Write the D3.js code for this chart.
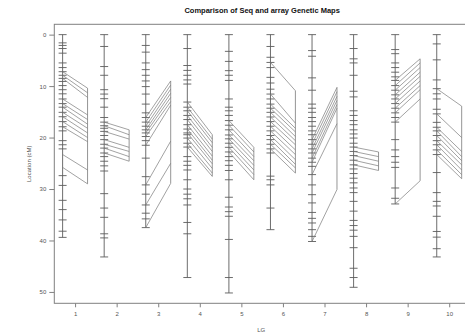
<!DOCTYPE html>
<html>
<head>
<meta charset="utf-8">
<script src="https://cdn.jsdelivr.net/npm/d3@7"></script>
<style>
  html, body { margin: 0; padding: 0; background: #fff; }
  svg { display: block; font-family: "Liberation Sans", Arial, sans-serif; }
</style>
</head>
<body>
<svg id="chart" width="465" height="334"></svg>
<script>
// Linkage groups
const linkageGroups = [1, 2, 3, 4, 5, 6, 7, 8, 9, 10];

// Marker positions (cM) on the sequence-based map, one list per linkage group
const seqPositions = [
  [0, 1.6, 2.1, 2.7, 3.6, 5.5, 6.4, 7.2, 7.9, 8.5, 9.1, 9.9, 10.7, 11.5, 12.5, 13.4, 14.1, 15.1, 15.95, 16.9, 17.9, 18.7, 20.6, 21.4, 22.2, 27.4, 29.3, 32.2, 34.0, 36.0, 38.2, 39.4],
  [0, 2.3, 6.2, 7.9, 10.7, 11.55, 12.45, 14.1, 16.1, 17.0, 17.7, 18.2, 18.8, 19.6, 20.4, 21.3, 22.05, 23.0, 23.7, 24.6, 25.5, 26.5, 30.9, 33.7, 35.5, 38.7, 39.5, 43.2],
  [0, 2.1, 3.4, 5.5, 6.8, 7.9, 9.0, 10.1, 11.55, 13.5, 15.2, 16.1, 17.0, 17.8, 18.5, 19.1, 19.8, 20.6, 21.5, 24.0, 27.6, 29.2, 31.0, 33.1, 34.7, 35.8, 37.5],
  [0, 2.7, 6.0, 6.95, 7.9, 8.8, 9.6, 13.1, 14.1, 14.8, 15.7, 16.5, 17.5, 18.35, 19.1, 19.45, 20.1, 21.1, 21.85, 23.7, 24.6, 25.4, 26.3, 28.2, 30.0, 31.0, 31.9, 33.1, 36.5, 38.7, 47.2],
  [0, 3.25, 5.2, 7.0, 7.9, 8.9, 12.5, 14.1, 14.8, 15.7, 16.7, 17.6, 18.5, 19.5, 20.25, 21.1, 21.9, 22.8, 23.7, 24.5, 25.4, 26.4, 28.2, 31.6, 33.5, 34.4, 35.3, 39.8, 47.2, 50.2],
  [0, 2.3, 4.4, 5.4, 6.4, 8.3, 9.4, 10.6, 11.55, 12.5, 13.5, 14.3, 15.1, 16.0, 16.9, 17.8, 18.7, 19.6, 20.4, 21.3, 22.2, 23.0, 27.5, 28.2, 29.2, 33.7, 37.9],
  [0, 3.1, 4.2, 8.4, 10.8, 13.5, 14.3, 15.1, 16.1, 16.9, 17.8, 18.7, 19.45, 20.4, 21.3, 22.2, 23.0, 24.0, 24.8, 25.6, 27.2, 29.2, 31.1, 32.7, 34.55, 35.7, 36.6, 37.9, 39.2, 40.2],
  [0, 2.7, 4.7, 5.5, 7.9, 11.0, 12.1, 14.8, 15.7, 16.7, 17.5, 18.5, 19.3, 20.1, 21.1, 21.85, 22.7, 23.5, 24.4, 25.3, 26.1, 27.0, 27.9, 28.8, 29.8, 30.7, 32.4, 34.3, 36.1, 37.1, 38.0, 39.2, 41.4, 45.4, 47.2, 49.1],
  [0, 2.9, 3.7, 5.5, 6.4, 7.3, 8.2, 8.9, 9.9, 10.8, 11.7, 12.5, 13.4, 14.3, 15.2, 16.1, 17.0, 20.4, 22.4, 23.7, 24.8, 25.8, 29.8, 31.8, 32.9],
  [0, 1.8, 4.9, 8.8, 10.5, 11.5, 12.5, 14.5, 15.4, 17.05, 18.0, 18.7, 19.6, 20.6, 21.4, 22.4, 23.3, 26.8, 30.7, 32.4, 33.3, 35.3, 38.25, 39.35, 41.6, 43.2]
];

// Shared markers: [position on sequence map, position on array map] (cM)
const sharedMarkers = [
  [[7.2, 10.4], [7.9, 11.3], [8.5, 12.2], [12.5, 15.6], [13.4, 16.5], [14.1, 17.4], [15.1, 18.2], [15.95, 19.1], [16.9, 20.0], [17.9, 20.8], [23.3, 26.3], [25.8, 29.0]],
  [[17.0, 18.5], [17.7, 19.45], [18.8, 20.3], [20.4, 21.9], [21.3, 22.7], [22.05, 23.7], [23.0, 24.6]],
  [[16.1, 9.0], [17.0, 9.8], [17.8, 10.6], [18.5, 11.4], [19.1, 12.2], [19.8, 13.0], [21.5, 13.7], [29.2, 20.7], [33.1, 25.0], [37.5, 28.9]],
  [[13.1, 19.45], [14.1, 20.3], [14.8, 21.0], [15.7, 21.9], [16.5, 22.7], [17.5, 23.6], [18.35, 24.4], [19.1, 25.1], [20.1, 26.0], [21.1, 26.9], [21.85, 27.55]],
  [[16.7, 21.9], [17.6, 22.8], [18.5, 23.7], [19.5, 24.5], [20.25, 25.4], [21.1, 26.3], [21.9, 27.2], [22.8, 28.2]],
  [[5.4, 10.9], [11.55, 17.2], [13.5, 18.2], [14.3, 18.9], [15.1, 19.8], [16.0, 20.6], [16.9, 21.4], [17.8, 22.4], [18.7, 23.3], [19.6, 24.3], [20.4, 25.2], [21.3, 25.9], [22.2, 26.9]],
  [[20.4, 10.25], [21.3, 11.1], [22.2, 12.0], [23.0, 12.8], [24.0, 13.6], [24.8, 14.3], [27.2, 17.3], [40.2, 30.1]],
  [[21.85, 22.8], [22.7, 23.7], [23.5, 24.6], [24.4, 25.5], [25.3, 26.4]],
  [[8.9, 4.7], [9.9, 5.5], [10.8, 6.4], [11.7, 7.3], [12.5, 8.1], [13.4, 9.0], [14.3, 9.9], [15.2, 10.7], [17.0, 12.5], [32.9, 28.4]],
  [[10.5, 13.9], [15.4, 20.0], [18.0, 22.7], [18.7, 23.7], [19.6, 24.5], [20.6, 25.3], [21.4, 26.3], [22.4, 27.2], [23.3, 28.0]]
];

const yTicks = [0, 10, 20, 30, 40, 50];
const titleText = "Comparison of Seq and array Genetic Maps";
const xTitle = "LG";
const yTitle = "Location (cM)";

const svg = d3.select("#chart");
const plot = { left: 54.3, right: 470, top: 24.3, bottom: 303.3 };

const maxPos = d3.max(seqPositions.flat());
const pad = maxPos * 0.04;

const x = d3.scaleLinear().domain([0.5, 10.5]).range([plot.left, plot.right]);
const y = d3.scaleLinear().domain([-pad, maxPos + pad]).range([plot.top, plot.bottom]);

const seqOffset = -0.3, arrOffset = 0.3;
const halfTick = 4;
const markColor = "#5c5c5c";
const linkColor = "#7a7a7a";
const axisColor = "#808080";

// Title
svg.append("text")
  .attr("x", (plot.left + plot.right) / 2)
  .attr("y", 12.5)
  .attr("text-anchor", "middle")
  .attr("font-size", "7.5px")
  .attr("font-weight", "bold")
  .attr("fill", "#111")
  .text(titleText);

// Axes
const yAxis = d3.axisLeft(y).tickValues(yTicks).tickSize(5).tickPadding(3).tickFormat(d3.format("d"));
const gy = svg.append("g").attr("transform", `translate(${plot.left},0)`).call(yAxis);
gy.select(".domain").remove();
gy.selectAll("line").attr("stroke", axisColor);
gy.selectAll("text").attr("font-size", "6px").attr("fill", "#555").attr("font-family", "Liberation Sans, Arial, sans-serif");

const xAxis = d3.axisBottom(x).tickValues(linkageGroups).tickSize(4).tickPadding(4).tickFormat(d3.format("d"));
const gx = svg.append("g").attr("transform", `translate(0,${plot.bottom})`).call(xAxis);
gx.select(".domain").remove();
gx.selectAll("line").attr("stroke", axisColor);
gx.selectAll("text").attr("font-size", "6px").attr("fill", "#555").attr("font-family", "Liberation Sans, Arial, sans-serif");

// Plot frame
svg.append("rect")
  .attr("x", plot.left).attr("y", plot.top)
  .attr("width", plot.right - plot.left).attr("height", plot.bottom - plot.top)
  .attr("fill", "none").attr("stroke", axisColor).attr("stroke-width", 1);

// Axis titles
svg.append("text")
  .attr("x", (plot.left + plot.right) / 2 - 1)
  .attr("y", 332)
  .attr("text-anchor", "middle")
  .attr("font-size", "6px").attr("fill", "#555")
  .text(xTitle);

svg.append("text")
  .attr("transform", `translate(31,${(plot.top + plot.bottom) / 2}) rotate(-90)`)
  .attr("text-anchor", "middle")
  .attr("font-size", "6px").attr("fill", "#555")
  .text(yTitle);

// Maps
const groups = svg.append("g").selectAll("g")
  .data(linkageGroups)
  .join("g");

groups.each(function (lg, i) {
  const g = d3.select(this);
  const xs = x(lg + seqOffset);
  const xa = x(lg + arrOffset);
  const seq = seqPositions[i];
  const links = sharedMarkers[i];

  // sequence map backbone
  g.append("line")
    .attr("x1", xs).attr("x2", xs)
    .attr("y1", y(d3.min(seq))).attr("y2", y(d3.max(seq)))
    .attr("stroke", markColor).attr("stroke-width", 0.9);

  // marker ticks
  g.selectAll("line.tick")
    .data(seq)
    .join("line")
    .attr("class", "tick")
    .attr("x1", xs - halfTick).attr("x2", xs + halfTick)
    .attr("y1", d => y(d)).attr("y2", d => y(d))
    .attr("stroke", markColor).attr("stroke-width", 0.9);

  // array map backbone
  const arr = links.map(d => d[1]);
  g.append("line")
    .attr("x1", xa).attr("x2", xa)
    .attr("y1", y(d3.min(arr))).attr("y2", y(d3.max(arr)))
    .attr("stroke", linkColor).attr("stroke-width", 0.8);

  // connections between shared markers
  g.selectAll("line.link")
    .data(links)
    .join("line")
    .attr("class", "link")
    .attr("x1", xs).attr("x2", xa)
    .attr("y1", d => y(d[0])).attr("y2", d => y(d[1]))
    .attr("stroke", linkColor).attr("stroke-width", 0.7);
});
</script>
</body>
</html>
